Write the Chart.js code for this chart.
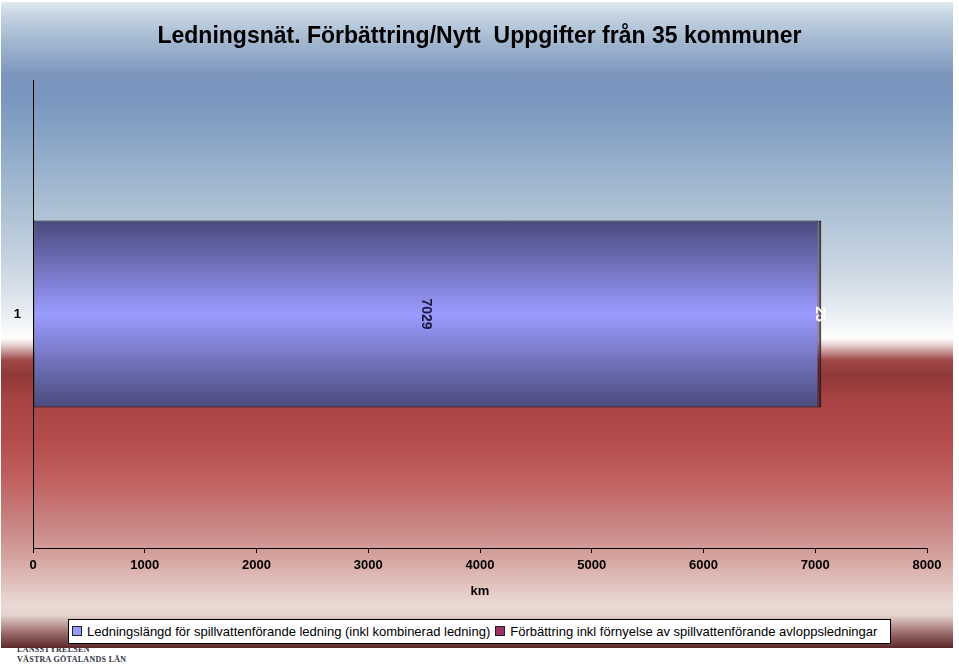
<!DOCTYPE html>
<html>
<head>
<meta charset="utf-8">
<script src="https://cdn.jsdelivr.net/npm/chart.js@4"></script>
<style>
  body { margin: 0; background: #fff; }
  #wrap { position: relative; width: 959px; height: 665px; overflow: hidden; }
  #bg {
    position: absolute; left: 1px; top: 2px; width: 952px; height: 646px; z-index: 1;
    background: linear-gradient(to bottom,
      #e2eaf2 0px, #c5d4e3 13px, #a4b9d0 38px, #7c95bd 73px, #7a97bf 98px,
      #8aa6c6 138px, #a8bdd2 198px, #c5d3e0 258px, #dfe6ee 298px, #f6f8fa 328px,
      #ffffff 336px, #e6d0d0 343px, #a04848 358px, #8f3838 373px, #a84444 398px,
      #b44c4c 438px, #c06060 478px, #c88080 518px, #d6a4a0 556px, #eadad5 603px,
      #e6d4cf 613px, #a07070 630px, #5a2828 646px);
  }
  #logo { position: absolute; left: 17px; top: 645px; z-index: 0; font-family: "Liberation Serif", "DejaVu Serif", serif;
    font-size: 8px; color: #333344; line-height: 10px; font-weight: bold; letter-spacing: 0.3px; }
  canvas { position: absolute; left: 0; top: 0; z-index: 2; }
  #legend {
    position: absolute; left: 68px; top: 619px; width: 818px; height: 23px; z-index: 3;
    background: #fff; border: 1px solid #000; font-family: "Liberation Sans", Arial, sans-serif;
    font-size: 13px; line-height: 23px; white-space: nowrap; padding-left: 3px; box-sizing: content-box;
  }
  #legend span.box { display: inline-block; width: 8px; height: 8px; border: 1px solid #222; margin-right: 5px; vertical-align: 0px; }
  #legend span.item { margin-right: 5px; }
</style>
</head>
<body>
<div id="wrap">
  <div id="logo">LÄNSSTYRELSEN<br>VÄSTRA GÖTALANDS LÄN</div>
  <div id="bg"></div>
  <canvas id="myChart" width="959" height="665"></canvas>
  <div id="legend"></div>
</div>
<script>
const categories = ['1'];
const seriesNames = [
  'Ledningslängd för spillvattenförande ledning (inkl kombinerad ledning)',
  'Förbättring inkl förnyelse av spillvattenförande avloppsledningar'
];
const ledningslangd = [7029];
const forbattring = [25];
const xTicks = [0, 1000, 2000, 3000, 4000, 5000, 6000, 7000, 8000];

const legendColors = ['#9999ff', '#993366'];
const labelColors = ['#1a1a40', '#ffffff'];

function barGradient(edge, mid) {
  return function (c) {
    const chart = c.chart;
    const a = chart.chartArea;
    if (!a) return mid;
    const center = (a.top + a.bottom) / 2;
    const half = (a.bottom - a.top) * 0.4 / 2;
    const g = chart.ctx.createLinearGradient(0, center - half, 0, center + half);
    g.addColorStop(0, edge);
    g.addColorStop(0.5, mid);
    g.addColorStop(1, edge);
    return g;
  };
}

const labelPlugin = {
  id: 'rotLabels',
  afterDatasetsDraw(chart) {
    const ctx = chart.ctx;
    chart.data.datasets.forEach((ds, i) => {
      const meta = chart.getDatasetMeta(i);
      meta.data.forEach((bar, j) => {
        const p = bar.getProps(['x', 'base', 'y'], true);
        ctx.save();
        ctx.translate((p.x + p.base) / 2, p.y);
        ctx.rotate(Math.PI / 2);
        ctx.font = 'bold 14px "Liberation Sans", Arial, sans-serif';
        ctx.fillStyle = labelColors[i];
        ctx.textAlign = 'center';
        ctx.textBaseline = 'middle';
        ctx.fillText(String(ds.data[j]), 0, 0);
        ctx.restore();
      });
    });
  }
};

const ctx = document.getElementById('myChart');

new Chart(ctx, {
  type: 'bar',
  data: {
    labels: categories,
    datasets: [{
      label: seriesNames[0],
      data: ledningslangd,
      backgroundColor: barGradient('#4a4a7c', '#9a9cff'),
      borderColor: '#111',
      borderWidth: 1,
      borderSkipped: false
    }, {
      label: seriesNames[1],
      data: forbattring,
      backgroundColor: barGradient('#3a1a2a', '#7a2a50'),
      borderColor: '#111',
      borderWidth: 1,
      borderSkipped: false
    }]
  },
  options: {
    indexAxis: 'y',
    responsive: false,
    animation: false,
    categoryPercentage: 0.8,
    barPercentage: 0.5,
    layout: { padding: 0 },
    plugins: {
      legend: { display: false },
      tooltip: { enabled: false },
      title: {
        display: true,
        text: 'Ledningsnät. Förbättring/Nytt  Uppgifter från 35 kommuner',
        color: '#000',
        font: { family: '"Liberation Sans", Arial, sans-serif', size: 23, weight: 'bold' },
        padding: { top: 23, bottom: 29.4 }
      }
    },
    scales: {
      x: {
        stacked: true,
        min: 0,
        max: 8000,
        afterBuildTicks: s => { s.ticks = xTicks.map(v => ({ value: v })); },
        afterFit: s => { s.height = 117; },
        grid: { drawOnChartArea: false, drawTicks: true, tickLength: 5, color: '#000' },
        border: { display: true, color: '#000', width: 1 },
        ticks: {
          color: '#000', padding: 5, maxRotation: 0,
          callback: v => String(v),
          font: { family: '"Liberation Sans", Arial, sans-serif', size: 13, weight: 'bold' }
        },
        title: {
          display: true, text: 'km', color: '#000',
          font: { family: '"Liberation Sans", Arial, sans-serif', size: 13, weight: 'bold' },
          padding: { top: 0, bottom: 66 }
        }
      },
      y: {
        stacked: true,
        afterFit: s => { s.width = 33; },
        grid: { display: false, drawTicks: false },
        border: { display: true, color: '#000', width: 1 },
        ticks: {
          color: '#000', padding: 12,
          font: { family: '"Liberation Sans", Arial, sans-serif', size: 13, weight: 'bold' }
        }
      },
      // empty right margin so the title stays centred on the whole picture
      yRight: {
        type: 'category',
        labels: categories,
        position: 'right',
        afterFit: s => { s.width = 32; },
        grid: { display: false, drawTicks: false },
        border: { display: false },
        ticks: { display: false }
      }
    }
  },
  plugins: [labelPlugin]
});

const legendEl = document.getElementById('legend');
legendEl.innerHTML = seriesNames.map((n, i) =>
  '<span class="item"><span class="box" style="background:' + legendColors[i] + '"></span>' + n + '</span>'
).join('');
</script>
</body>
</html>
